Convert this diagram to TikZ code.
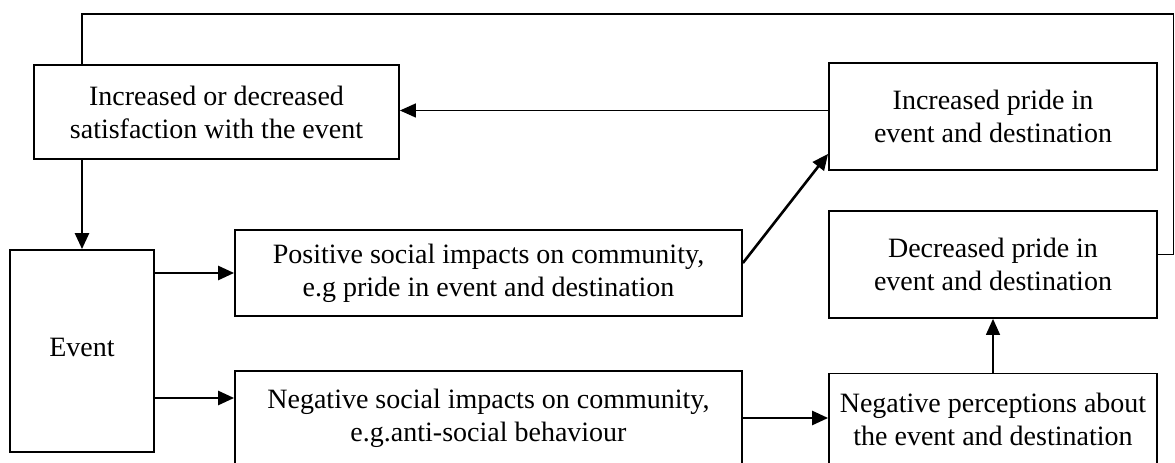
\documentclass[tikz,border=0pt]{standalone}
\usepackage{fontspec}
\setmainfont{Liberation Serif}
\usetikzlibrary{arrows.meta}

\tikzset{
  box/.style={draw,line width=1.8pt,align=center,inner sep=0pt,
    font=\fontsize{28}{33}\selectfont},
  arr/.style={line width=2.6pt,-{Triangle[length=16pt,width=14pt]}},
  thinarr/.style={line width=1.4pt,-{Triangle[length=16pt,width=14pt]}},
  back/.style={line width=1.8pt},
}

\begin{document}
\begin{tikzpicture}[x=1pt,y=1pt]
         \useasboundingbox (0,0) rectangle (1175,463) ;
         % boxes
         \node[box,minimum width=365pt,minimum height=94pt] (sat) at (216.5,351)
              {Increased or decreased\\satisfaction with the event} ;
         \node[box,minimum width=328pt,minimum height=107pt] (inc) at (993,346.5)
              {Increased pride in\\event and destination} ;
         \node[box,minimum width=144pt,minimum height=202pt] (evt) at (82,112)
              {\raisebox{8pt}{Event}} ;
         \node[box,minimum width=507pt,minimum height=86pt] (pos) at (488.5,190)
              {Positive social impacts on community,\\e.g pride in event and destination} ;
         \node[box,minimum width=328pt,minimum height=107pt] (dec) at (993,198.5)
              {Decreased pride in\\event and destination} ;
         \node[box,minimum width=507pt,minimum height=94pt] (neg) at (488.5,45)
              {Negative social impacts on community,\\e.g.anti-social behaviour} ;
         \node[box,minimum width=328pt,minimum height=92pt] (per) at (993,43.5)
              {Negative perceptions about\\the event and destination} ;
         % feedback loop round the top
         \coordinate (tr) at (1173.5,449) ;
         \coordinate (decin) at ([yshift=10pt]dec.east) ;
         \draw[back] (sat.north -| evt.north) |- (tr) |- (decin) ;
         % arrows
         \coordinate (negin) at ([yshift=20pt]neg.west) ;
         \draw[arr] (sat.south -| evt.north) -- (evt.north) ;
         \draw[arr] (evt.east |- pos.west) -- (pos.west) ;
         \draw[arr] (evt.east |- negin) -- (negin) ;
         \draw[arr] ([yshift=10pt]pos.east) -- ([yshift=17pt]inc.south west) ;
         \draw[thinarr] ([yshift=6pt]inc.west) -- ([yshift=6pt]inc.west -| sat.east) ;
         \draw[arr] (neg.east) -- (neg.east -| per.west) ;
         \draw[thinarr] (per.north) -- (dec.south) ;
\end{tikzpicture}
\end{document}
